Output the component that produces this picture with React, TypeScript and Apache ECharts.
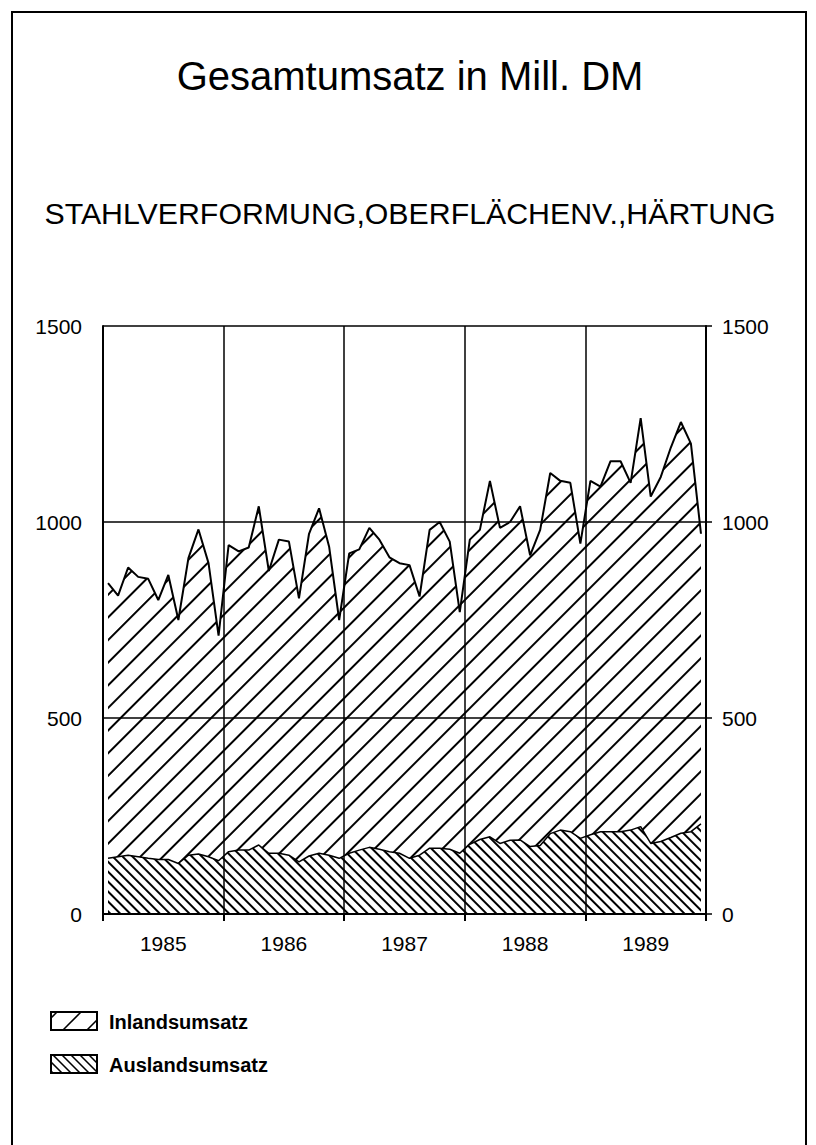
import React, { useEffect, useRef } from 'react';
import * as echarts from 'echarts';

const years = ['1985', '1986', '1987', '1988', '1989'];
const monthCodes = ['01', '02', '03', '04', '05', '06', '07', '08', '09', '10', '11', '12'];
const months = years.flatMap((y) => monthCodes.map((m) => `${y}-${m}`));

// Gesamtumsatz (top line), Mill. DM, monthly 1985-1989
const gesamtumsatz = [
  844, 812, 884, 860, 855, 801, 865, 750, 908, 981, 895, 710,
  941, 925, 935, 1040, 875, 955, 950, 805, 970, 1035, 937, 750,
  920, 930, 985, 955, 910, 895, 890, 810, 980, 1000, 950, 770,
  955, 980, 1105, 985, 1000, 1040, 915, 980, 1125, 1105, 1100, 945,
  1105, 1090, 1155, 1155, 1100, 1265, 1065, 1115, 1190, 1255, 1200, 970,
];

// Auslandsumsatz (lower area), Mill. DM
const auslandsumsatz = [
  142, 146, 150, 146, 142, 139, 139, 129, 150, 153, 146, 136,
  159, 163, 163, 176, 155, 155, 150, 133, 148, 155, 150, 142,
  155, 163, 170, 165, 159, 155, 142, 150, 168, 168, 165, 155,
  178, 190, 197, 180, 188, 189, 172, 175, 205, 214, 210, 193,
  202, 210, 210, 210, 214, 223, 180, 185, 195, 206, 210, 230,
];

const yTickValues = [0, 500, 1000, 1500];

const FONT = 'Liberation Sans, Arial, sans-serif';

function hatch(x0: number, y0: number, w: number, h: number, step: number, dir: 'fwd' | 'back', phase: number) {
  const out: any[] = [];
  if (dir === 'fwd') {
    for (let c = x0 + y0 + phase; c < x0 + w + y0 + h; c += step) {
      const xs = Math.max(x0, c - y0 - h);
      const xe = Math.min(x0 + w, c - y0);
      if (xe - xs > 0.5) {
        out.push({ type: 'line', shape: { x1: xs, y1: c - xs, x2: xe, y2: c - xe }, style: { stroke: '#000', lineWidth: 1.6 } });
      }
    }
  } else {
    for (let c = x0 - (y0 + h) + phase; c < x0 + w - y0; c += step) {
      const xs = Math.max(x0, y0 + c);
      const xe = Math.min(x0 + w, y0 + h + c);
      if (xe - xs > 0.5) {
        out.push({ type: 'line', shape: { x1: xs, y1: xs - c, x2: xe, y2: xe - c }, style: { stroke: '#000', lineWidth: 1.6 } });
      }
    }
  }
  return out;
}

function txt(text: string, x: number, y: number, size: number, align: string, weight = 'normal') {
  return {
    type: 'text',
    x,
    y,
    style: {
      text,
      fill: '#000',
      fontSize: size,
      fontFamily: FONT,
      fontWeight: weight,
      textAlign: align,
      align,
      textVerticalAlign: 'middle',
      verticalAlign: 'middle',
    },
  };
}

export default function App() {
  const ref = useRef<HTMLDivElement>(null);

  useEffect(() => {
    if (!ref.current) return;
    const chart = echarts.init(ref.current, undefined, { renderer: 'svg' });

    const inlandsumsatz = gesamtumsatz.map((g, i) => g - auslandsumsatz[i]);

    const inlandDecal = {
      symbol: 'rect',
      symbolSize: 1,
      color: '#000',
      backgroundColor: null,
      dashArrayX: [1, 0],
      dashArrayY: [2, 14],
      rotation: -Math.PI / 4,
    };
    const auslandDecal = {
      symbol: 'rect',
      symbolSize: 1,
      color: '#000',
      backgroundColor: null,
      dashArrayX: [1, 0],
      dashArrayY: [2, 5],
      rotation: Math.PI / 4,
    };

    const axisLabelStyle = { color: '#000', fontFamily: FONT, fontSize: 21, formatter: (v: any) => String(v) };

    const option: any = {
      animation: false,
      backgroundColor: '#fff',
      grid: { left: 103, right: 110, top: 326, bottom: 231, containLabel: false },
      xAxis: [
        { type: 'category', data: months, boundaryGap: true, show: false, gridIndex: 0 },
        {
          type: 'category',
          data: years,
          boundaryGap: true,
          position: 'bottom',
          gridIndex: 0,
          axisLine: { show: true, lineStyle: { color: '#000', width: 2 } },
          axisTick: { show: true, length: 7, lineStyle: { color: '#000', width: 2 } },
          axisLabel: { ...axisLabelStyle, margin: 19 },
          splitLine: { show: true, lineStyle: { color: '#000', width: 1.5 } },
        },
      ],
      yAxis: [
        {
          type: 'value',
          min: yTickValues[0],
          max: yTickValues[yTickValues.length - 1],
          interval: 500,
          position: 'left',
          axisLine: { show: true, lineStyle: { color: '#000', width: 2 } },
          axisTick: { show: false },
          axisLabel: { ...axisLabelStyle, margin: 21 },
          splitLine: { show: true, lineStyle: { color: '#000', width: 1.5 } },
        },
        {
          type: 'value',
          min: yTickValues[0],
          max: yTickValues[yTickValues.length - 1],
          interval: 500,
          position: 'right',
          axisLine: { show: true, lineStyle: { color: '#000', width: 2 } },
          axisTick: { show: true, length: 6, inside: false, lineStyle: { color: '#000', width: 1.5 } },
          axisLabel: { ...axisLabelStyle, margin: 16 },
          splitLine: { show: false },
        },
      ],
      series: [
        {
          name: 'Auslandsumsatz',
          type: 'line',
          stack: 'umsatz',
          xAxisIndex: 0,
          yAxisIndex: 0,
          data: auslandsumsatz,
          showSymbol: false,
          symbol: 'none',
          lineStyle: { color: '#000', width: 1.5, decal: auslandDecal },
          itemStyle: { color: '#000', decal: auslandDecal },
          areaStyle: { color: 'rgba(255,255,255,0)', opacity: 1 },
          z: 3,
        },
        {
          name: 'Inlandsumsatz',
          type: 'line',
          stack: 'umsatz',
          xAxisIndex: 0,
          yAxisIndex: 0,
          data: inlandsumsatz,
          showSymbol: false,
          symbol: 'none',
          lineStyle: { color: '#000', width: 2, decal: inlandDecal },
          itemStyle: { color: '#000', decal: inlandDecal },
          areaStyle: { color: 'rgba(255,255,255,0)', opacity: 1 },
          z: 2,
        },
      ],
      graphic: [
        { type: 'rect', shape: { x: 12, y: 12, width: 794, height: 1160 }, style: { fill: 'none', stroke: '#000', lineWidth: 2 } },
        txt('Gesamtumsatz in Mill. DM', 410, 76, 40, 'center'),
        txt('STAHLVERFORMUNG,OBERFLÄCHENV.,HÄRTUNG', 410, 213, 30.3, 'center'),
        { type: 'rect', shape: { x: 51, y: 1012, width: 46, height: 18 }, style: { fill: '#fff', stroke: '#000', lineWidth: 2 } },
        ...hatch(51, 1012, 46, 18, 24, 'fwd', 6),
        { type: 'rect', shape: { x: 51, y: 1055, width: 46, height: 18 }, style: { fill: '#fff', stroke: '#000', lineWidth: 2 } },
        ...hatch(51, 1055, 46, 18, 9, 'back', 2),
        txt('Inlandsumsatz', 109, 1022, 20, 'left', 'bold'),
        txt('Auslandsumsatz', 109, 1065, 20, 'left', 'bold'),
      ],
    };

    chart.setOption(option);
    return () => chart.dispose();
  }, []);

  return <div ref={ref} style={{ position: 'absolute', left: 0, top: 0, width: 816, height: 1145 }} />;
}
